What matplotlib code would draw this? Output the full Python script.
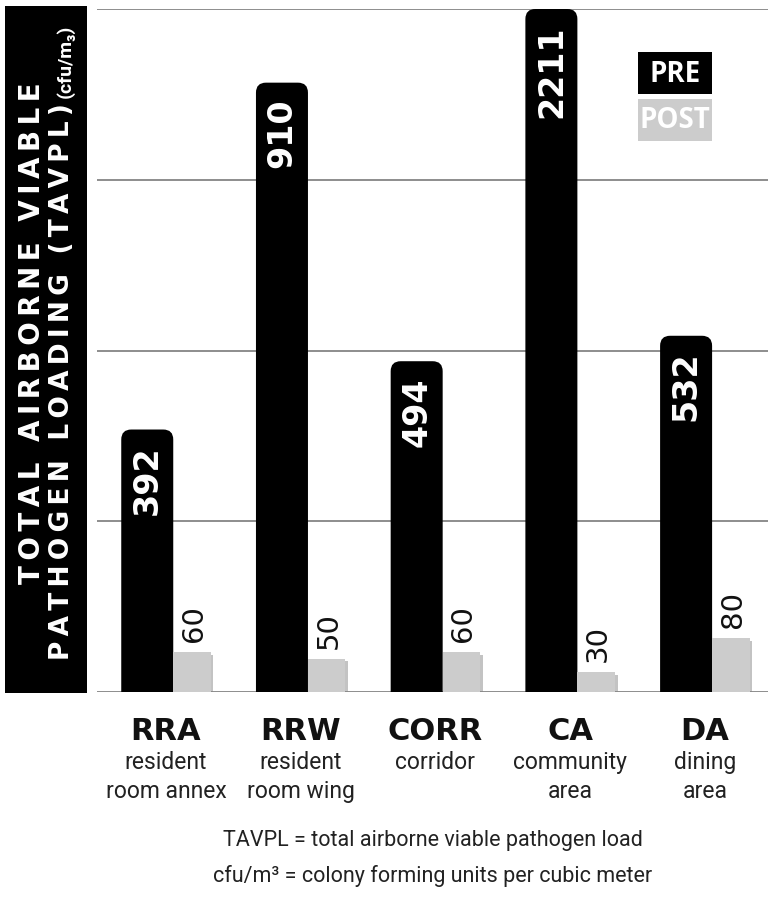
import matplotlib.pyplot as plt
import matplotlib.patheffects as pe
from matplotlib.patches import FancyBboxPatch, Rectangle
from matplotlib.transforms import blended_transform_factory

##########################  DATA  ##############################################

codes = ['RRA', 'RRW', 'CORR', 'CA', 'DA']
names = ['resident\nroom annex', 'resident\nroom wing', 'corridor', 'community\narea', 'dining\narea']
pre = [392, 910, 494, 2211, 532]
post = [60, 50, 60, 30, 80]
gridStep = 255
yTop = 1020

footnotes = ['TAVPL = total airborne viable pathogen load',
             'cfu/m\u00b3 = colony forming units per cubic meter']

##########################  FIGURE  ############################################

W, H = 775, 897
fig = plt.figure(figsize=(W / 100, H / 100), dpi=100)
narrow = ['Roboto', 'DejaVu Sans']

def fx(x):
    return x / W

def fy(y):
    return 1 - y / H

ax = fig.add_axes([fx(97), fy(692), 671 / W, 683 / H])
ax.set_xlim(-0.512, 4.469)
ax.set_ylim(0, yTop)
ax.set_yticks(range(0, yTop + 1, gridStep))
ax.set_xticks([])
ax.tick_params(left=False, labelleft=False)
ax.grid(axis='y', color='#7a7a7a', linewidth=1.2)
ax.set_axisbelow(True)
for s in ax.spines.values():
    s.set_visible(False)

# data units per pixel, used for the rounded bar tops
xu = (ax.get_xlim()[1] - ax.get_xlim()[0]) / 671
yu = (ax.get_ylim()[1] - ax.get_ylim()[0]) / 683
aspect = yu / xu
radius = 10 * xu

preW, postW = 0.386, 0.278
preOff, postOff = -0.139, 0.193

##########################  BARS  ##############################################

for i, v in enumerate(pre):
    top = min(v, yTop)
    y0 = -radius * aspect * 2
    bar = FancyBboxPatch((i + preOff - preW / 2, y0), preW, top - y0,
                         boxstyle='round,pad=0,rounding_size=%f' % radius,
                         mutation_aspect=aspect, facecolor='black',
                         edgecolor='none', zorder=3)
    ax.add_patch(bar)
    ax.annotate(str(v), xy=(i + preOff, top), xytext=(0, -16),
                textcoords='offset pixels', rotation=90, ha='center', va='top',
                color='white', fontsize=24, fontweight='bold', zorder=4)

xs = [i + postOff for i in range(len(post))]
ax.bar(xs, post, width=postW, color='#cccccc', zorder=3,
       path_effects=[pe.SimplePatchShadow(offset=(2, -2), shadow_rgbFace='#888888', alpha=0.5),
                     pe.Normal()])
for x, v in zip(xs, post):
    ax.annotate(str(v), xy=(x, v), xytext=(2, 10), textcoords='offset pixels',
                rotation=90, ha='center', va='bottom', color='#111111', fontsize=21)

##########################  CATEGORY LABELS  ###################################

trans = blended_transform_factory(ax.transData, fig.transFigure)
for i, (c, n) in enumerate(zip(codes, names)):
    ax.text(i, fy(717), c, transform=trans, ha='center', va='top',
            fontsize=22, fontweight='bold', color='#111111')
    ax.text(i, fy(751), n, transform=trans, ha='center', va='top',
            fontsize=16.5, family=narrow, color='#222222', linespacing=1.35)

xMid = fx(97 + 671 / 2)
fig.text(xMid, fy(846), footnotes[0], ha='center', va='baseline',
         fontsize=15.5, family=narrow, color='#222222')
fig.text(xMid, fy(882), footnotes[1], ha='center', va='baseline',
         fontsize=15.5, family=narrow, color='#222222')

##########################  LEGEND  ############################################

fig.add_artist(Rectangle((fx(638), fy(94)), 74 / W, 42 / H, transform=fig.transFigure,
                         facecolor='black', edgecolor='none'))
fig.add_artist(Rectangle((fx(638), fy(141)), 74 / W, 42 / H, transform=fig.transFigure,
                         facecolor='#cccccc', edgecolor='none'))
fig.text(fx(675), fy(74), 'PRE', ha='center', va='center', color='white',
         fontsize=20, fontweight='bold', family='Open Sans')
fig.text(fx(675), fy(121), 'POST', ha='center', va='center', color='white',
         fontsize=20, fontweight='bold', family='Open Sans')

##########################  Y TITLE BOX  #######################################

def spaced(s):
    return '\u2009'.join(s)

fig.add_artist(Rectangle((fx(5), fy(693)), 82 / W, 687 / H, transform=fig.transFigure,
                         facecolor='black', edgecolor='none'))
fig.text(fx(32), fy(333), spaced('TOTAL AIRBORNE VIABLE'), rotation=90,
         ha='center', va='center', color='white', fontsize=20, fontweight='bold')
line2 = fig.text(fx(62), fy(660), spaced('PATHOGEN LOADING (TAVPL)'), rotation=90,
                 ha='center', va='bottom', color='white', fontsize=19, fontweight='bold')
fig.add_artist(plt.Annotation('(cfu/m\u2083)', xy=(0.5, 1), xycoords=line2,
                              xytext=(3, 5), textcoords='offset pixels', rotation=90,
                              ha='center', va='bottom', color='white', fontsize=14,
                              fontweight='bold', family=narrow))

fig.savefig('out.png', dpi=100)
